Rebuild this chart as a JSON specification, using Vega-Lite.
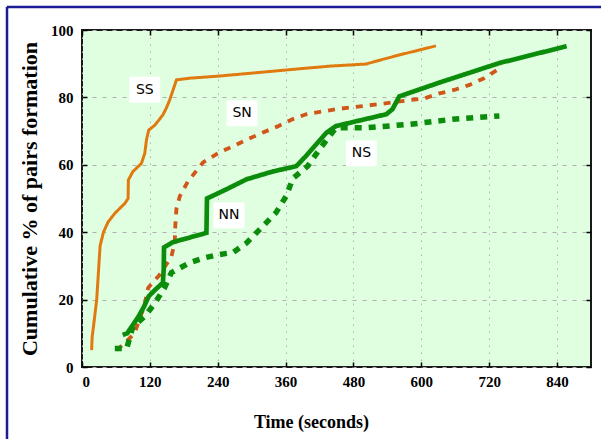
{
  "$schema": "https://vega.github.io/schema/vega-lite/v6.json",
  "width": 509,
  "height": 337,
  "autosize": "none",
  "padding": {"left": 82, "top": 30, "right": 10, "bottom": 72},
  "background": "white",
  "config": {
    "view": {"fill": "#e0ffe0", "stroke": "#1a1a1a", "strokeWidth": 2},
    "axis": {
      "labelFont": "Liberation Serif",
      "labelFontWeight": "bold",
      "labelFontSize": 15,
      "labelColor": "#000",
      "titleFont": "Liberation Serif",
      "titleFontWeight": "bold",
      "titleColor": "#000",
      "domain": false,
      "tickColor": "#000",
      "tickWidth": 1.5,
      "gridColor": "#b0b0b0",
      "gridWidth": 1
    }
  },
  "datasets": {
    "curves": [
      {"series": "SS", "t": 17, "pct": 5},
      {"series": "SS", "t": 18, "pct": 9},
      {"series": "SS", "t": 21, "pct": 13},
      {"series": "SS", "t": 26, "pct": 20},
      {"series": "SS", "t": 29, "pct": 28},
      {"series": "SS", "t": 32, "pct": 36},
      {"series": "SS", "t": 38, "pct": 40},
      {"series": "SS", "t": 46, "pct": 43},
      {"series": "SS", "t": 58, "pct": 45.6},
      {"series": "SS", "t": 76, "pct": 48.6},
      {"series": "SS", "t": 81.5, "pct": 50},
      {"series": "SS", "t": 82, "pct": 55.5},
      {"series": "SS", "t": 90, "pct": 58},
      {"series": "SS", "t": 105, "pct": 60.4},
      {"series": "SS", "t": 111, "pct": 63.4},
      {"series": "SS", "t": 114, "pct": 67.4},
      {"series": "SS", "t": 118, "pct": 70.3},
      {"series": "SS", "t": 129, "pct": 71.8},
      {"series": "SS", "t": 143, "pct": 74.8},
      {"series": "SS", "t": 149, "pct": 76.8},
      {"series": "SS", "t": 155, "pct": 79.2},
      {"series": "SS", "t": 167, "pct": 85.2},
      {"series": "SS", "t": 190, "pct": 85.7},
      {"series": "SS", "t": 240, "pct": 86.3},
      {"series": "SS", "t": 300, "pct": 87.2},
      {"series": "SS", "t": 385, "pct": 88.5},
      {"series": "SS", "t": 440, "pct": 89.3},
      {"series": "SS", "t": 502, "pct": 89.9},
      {"series": "SS", "t": 530, "pct": 91.2},
      {"series": "SS", "t": 561, "pct": 92.6},
      {"series": "SS", "t": 600, "pct": 94.2},
      {"series": "SS", "t": 626, "pct": 95.3},
      {"series": "SN", "t": 61, "pct": 5},
      {"series": "SN", "t": 75, "pct": 7},
      {"series": "SN", "t": 93, "pct": 10},
      {"series": "SN", "t": 99, "pct": 13},
      {"series": "SN", "t": 110, "pct": 18},
      {"series": "SN", "t": 117, "pct": 23.5},
      {"series": "SN", "t": 137, "pct": 27.3},
      {"series": "SN", "t": 158, "pct": 32.7},
      {"series": "SN", "t": 164, "pct": 37},
      {"series": "SN", "t": 165, "pct": 42},
      {"series": "SN", "t": 167, "pct": 47},
      {"series": "SN", "t": 173, "pct": 50.7},
      {"series": "SN", "t": 187, "pct": 55},
      {"series": "SN", "t": 214, "pct": 60.7},
      {"series": "SN", "t": 243, "pct": 63.7},
      {"series": "SN", "t": 267, "pct": 65.5},
      {"series": "SN", "t": 293, "pct": 67.6},
      {"series": "SN", "t": 320, "pct": 69.6},
      {"series": "SN", "t": 346, "pct": 71.4},
      {"series": "SN", "t": 372, "pct": 73.5},
      {"series": "SN", "t": 396, "pct": 75},
      {"series": "SN", "t": 449, "pct": 76.5},
      {"series": "SN", "t": 526, "pct": 78},
      {"series": "SN", "t": 579, "pct": 79.2},
      {"series": "SN", "t": 605, "pct": 79.7},
      {"series": "SN", "t": 632, "pct": 81.2},
      {"series": "SN", "t": 658, "pct": 82.2},
      {"series": "SN", "t": 685, "pct": 83.7},
      {"series": "SN", "t": 711, "pct": 85.7},
      {"series": "SN", "t": 738, "pct": 88.6},
      {"series": "SN", "t": 741, "pct": 89.6},
      {"series": "NN", "t": 72, "pct": 9.5},
      {"series": "NN", "t": 80, "pct": 10},
      {"series": "NN", "t": 90, "pct": 12.5},
      {"series": "NN", "t": 100, "pct": 15},
      {"series": "NN", "t": 110, "pct": 18},
      {"series": "NN", "t": 118, "pct": 21},
      {"series": "NN", "t": 130, "pct": 23},
      {"series": "NN", "t": 143, "pct": 25},
      {"series": "NN", "t": 144.5, "pct": 29},
      {"series": "NN", "t": 145, "pct": 35.5},
      {"series": "NN", "t": 160, "pct": 37},
      {"series": "NN", "t": 220, "pct": 39.8},
      {"series": "NN", "t": 221, "pct": 50},
      {"series": "NN", "t": 255, "pct": 52.7},
      {"series": "NN", "t": 291, "pct": 55.7},
      {"series": "NN", "t": 337, "pct": 58},
      {"series": "NN", "t": 379, "pct": 59.6},
      {"series": "NN", "t": 396, "pct": 62.6},
      {"series": "NN", "t": 432, "pct": 69.5},
      {"series": "NN", "t": 449, "pct": 71.5},
      {"series": "NN", "t": 538, "pct": 75},
      {"series": "NN", "t": 549, "pct": 76.5},
      {"series": "NN", "t": 561, "pct": 80.3},
      {"series": "NN", "t": 632, "pct": 84.4},
      {"series": "NN", "t": 740, "pct": 90.3},
      {"series": "NN", "t": 755, "pct": 90.9},
      {"series": "NN", "t": 857, "pct": 95.2},
      {"series": "NS", "t": 58, "pct": 5.5},
      {"series": "NS", "t": 79, "pct": 5.5},
      {"series": "NS", "t": 90, "pct": 12},
      {"series": "NS", "t": 111, "pct": 15},
      {"series": "NS", "t": 129, "pct": 19},
      {"series": "NS", "t": 146, "pct": 23.5},
      {"series": "NS", "t": 158, "pct": 28},
      {"series": "NS", "t": 191, "pct": 31},
      {"series": "NS", "t": 217, "pct": 32.4},
      {"series": "NS", "t": 240, "pct": 33.3},
      {"series": "NS", "t": 267, "pct": 34},
      {"series": "NS", "t": 291, "pct": 36.8},
      {"series": "NS", "t": 320, "pct": 41.8},
      {"series": "NS", "t": 343, "pct": 45.8},
      {"series": "NS", "t": 361, "pct": 50.7},
      {"series": "NS", "t": 373, "pct": 56},
      {"series": "NS", "t": 399, "pct": 59.6},
      {"series": "NS", "t": 420, "pct": 64.6},
      {"series": "NS", "t": 449, "pct": 71},
      {"series": "NS", "t": 502, "pct": 71},
      {"series": "NS", "t": 579, "pct": 72},
      {"series": "NS", "t": 655, "pct": 73.5},
      {"series": "NS", "t": 738, "pct": 74.5}
    ],
    "labels": [
      {"label": "SS", "t": 111, "pct": 82.3},
      {"label": "SN", "t": 283, "pct": 75.3},
      {"label": "NN", "t": 260, "pct": 45},
      {"label": "NS", "t": 494, "pct": 63.4}
    ],
    "frame": [
      {"edge": "top", "x1": -133, "x2": 930, "y1": 106.8, "y2": 106.8},
      {"edge": "left", "x1": -132.6, "x2": -132.6, "y1": 106.8, "y2": -25}
    ]
  },
  "resolve": {"axis": {"x": "independent", "y": "independent"}},
  "layer": [
    {
      "data": {"name": "frame"},
      "mark": {"type": "rule", "color": "#1c1c96", "strokeWidth": 2.5, "clip": false},
      "encoding": {
        "x": {"field": "x1", "type": "quantitative", "axis": null},
        "x2": {"field": "x2"},
        "y": {"field": "y1", "type": "quantitative", "axis": null},
        "y2": {"field": "y2"}
      }
    },
    {
      "data": {"name": "curves"},
      "mark": {"type": "line", "strokeCap": "butt", "strokeJoin": "miter"},
      "encoding": {
        "x": {
          "field": "t", "type": "quantitative",
          "scale": {"domain": [0, 900], "nice": false, "zero": false},
          "axis": {
            "orient": "bottom",
            "values": [0, 120, 240, 360, 480, 600, 720, 840],
            "title": "Time (seconds)",
            "titleFontSize": 18,
            "titlePadding": 24,
            "titleX": 229,
            "titleAlign": "center",
            "tickSize": -5,
            "labelPadding": 12,
            "grid": true,
            "gridDash": [1.5, 5.5]
          }
        },
        "y": {
          "field": "pct", "type": "quantitative",
          "scale": {"domain": [0, 100], "nice": false, "zero": false},
          "axis": {
            "orient": "left",
            "values": [0, 20, 40, 60, 80, 100],
            "title": "Cumulative % of pairs formation",
            "titleFontSize": 22,
            "titlePadding": 9,
            "tickSize": -5,
            "labelPadding": 14,
            "grid": true,
            "gridDash": [4, 6]
          }
        },
        "color": {
          "field": "series", "type": "nominal", "legend": null,
          "scale": {"domain": ["SS", "SN", "NN", "NS"], "range": ["#e07a10", "#d0561a", "#0b8c0b", "#0b8c0b"]}
        },
        "strokeDash": {
          "field": "series", "type": "nominal", "legend": null,
          "scale": {"domain": ["SS", "SN", "NN", "NS"], "range": [[1, 0], [7, 7], [1, 0], [7, 7]]}
        },
        "strokeWidth": {
          "field": "series", "type": "nominal", "legend": null,
          "scale": {"domain": ["SS", "SN", "NN", "NS"], "range": [3, 5.5, 3.5, 5.5]}
        }
      }
    },
    {
      "data": {"name": "labels"},
      "mark": {"type": "point", "shape": "M-1.19,-1L1.19,-1L1.19,1L-1.19,1Z", "filled": true, "fill": "white", "opacity": 1, "size": 676, "strokeWidth": 0},
      "encoding": {
        "x": {
          "field": "t", "type": "quantitative",
          "axis": {"orient": "top", "values": [0, 120, 240, 360, 480, 600, 720, 840], "labels": false, "title": null, "grid": false, "tickSize": -5}
        },
        "y": {
          "field": "pct", "type": "quantitative",
          "axis": {"orient": "right", "values": [0, 20, 40, 60, 80, 100], "labels": false, "title": null, "grid": false, "tickSize": -5}
        }
      }
    },
    {
      "data": {"name": "labels"},
      "mark": {"type": "text", "font": "DejaVu Sans", "fontSize": 14, "color": "#000", "align": "center", "baseline": "middle"},
      "encoding": {
        "x": {"field": "t", "type": "quantitative", "axis": null},
        "y": {"field": "pct", "type": "quantitative", "axis": null},
        "text": {"field": "label"}
      }
    }
  ]
}
